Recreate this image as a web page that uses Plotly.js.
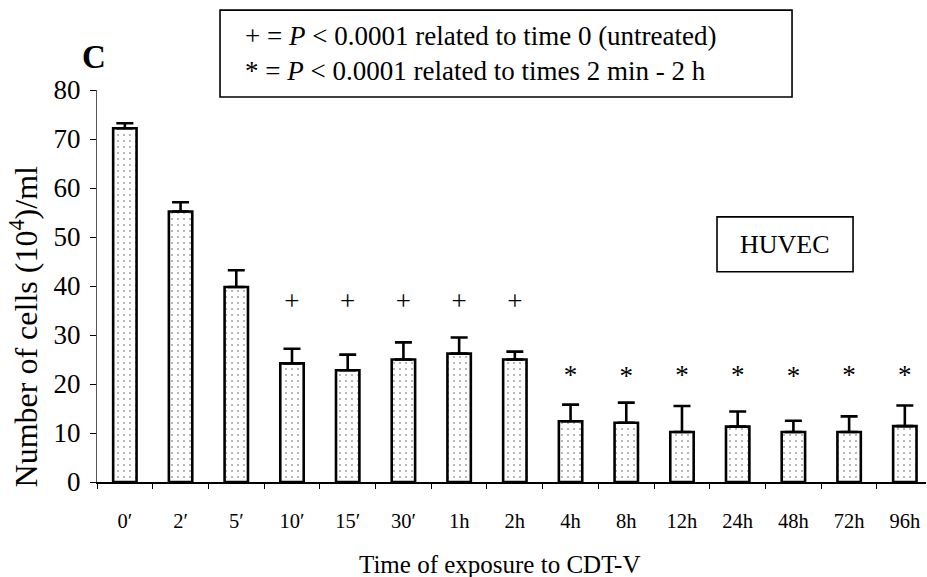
<!DOCTYPE html>
<html>
<head>
<meta charset="utf-8">
<script src="https://cdn.plot.ly/plotly-3.0.1.min.js"></script>
<style>html,body{margin:0;padding:0;background:#fff;}#chart{width:927px;height:577px;}</style>
</head>
<body>
<div id="chart"></div>
<script>
const categories = ["0\u2032","2\u2032","5\u2032","10\u2032","15\u2032","30\u2032","1h","2h","4h","8h","12h","24h","48h","72h","96h"];
const means = [72.2, 55.2, 39.8, 24.2, 22.8, 25.0, 26.2, 25.0, 12.4, 12.1, 10.2, 11.3, 10.2, 10.2, 11.4];
const errors = [1.0, 1.9, 3.4, 3.0, 3.2, 3.5, 3.3, 1.6, 3.4, 4.1, 5.3, 3.1, 2.3, 3.2, 4.2];
const sigLabels = ["","","","+","+","+","+","+","*","*","*","*","*","*","*"];
const sigY = [null,null,null,36.4,36.4,36.4,36.4,36.4,21.4,21.2,21.4,21.4,21.1,21.4,21.4];
const yTicks = [0,10,20,30,40,50,60,70,80];

const serif = "Liberation Serif";

const bars = {
  type: "bar",
  x: categories,
  y: means,
  width: 0.42,
  marker: {
    color: "#ffffff",
    line: {color: "#000", width: 2.6},
    pattern: {shape: ".", fgcolor: "#a8a8a8", bgcolor: "#ffffff", size: 6, solidity: 0.1}
  },
  error_y: {type: "data", symmetric: false, array: errors, arrayminus: errors.map(() => 0),
            color: "#000", thickness: 2.6, width: 8.5},
  hoverinfo: "none"
};

const sig = {
  type: "scatter",
  mode: "text",
  x: categories,
  y: sigY,
  text: sigLabels,
  textfont: {family: serif, size: 27, color: "#000"},
  cliponaxis: false,
  hoverinfo: "none"
};

const layout = {
  width: 927, height: 577,
  margin: {l: 97, r: 1, t: 90, b: 94.5},
  paper_bgcolor: "#fff", plot_bgcolor: "#fff",
  showlegend: false,
  font: {family: serif, color: "#000"},
  xaxis: {
    type: "category",
    range: [-0.5, 14.38],
    tickson: "boundaries",
    ticks: "outside", ticklen: 5, tickwidth: 1, tickcolor: "#000",
    showline: true, linecolor: "#000", linewidth: 1.5,
    showgrid: false, zeroline: false,
    tickfont: {family: serif, size: 20.5, color: "#000"},
    ticklabelstandoff: 20
  },
  yaxis: {
    range: [0, 80],
    tickvals: yTicks,
    ticks: "outside", ticklen: 6, tickwidth: 1, tickcolor: "#000",
    showline: true, linecolor: "#555", linewidth: 1.2,
    showgrid: false, zeroline: false,
    tickfont: {family: serif, size: 27, color: "#000"},
    ticklabelstandoff: 4
  },
  shapes: [
    {type: "rect", xref: "paper", yref: "paper", x0: 0.1484, x1: 0.8384, y0: 0.982, y1: 1.2038,
     line: {color: "#000", width: 1.6}, fillcolor: "rgba(0,0,0,0)"},
    {type: "rect", xref: "paper", yref: "paper", x0: 0.7479, x1: 0.912, y0: 0.5363, y1: 0.6764,
     line: {color: "#000", width: 1.6}, fillcolor: "#fff"}
  ],
  annotations: [
    {xref: "paper", yref: "paper", x: -0.0036, y: 1.083, xanchor: "center", yanchor: "middle",
     text: "<b>C</b>", showarrow: false, font: {family: serif, size: 33, color: "#000"}},
    {xref: "paper", yref: "paper", x: -0.0885, y: 0.396, xanchor: "center", yanchor: "middle",
     text: "Number of cells (10<sup>4</sup>)/ml", textangle: -90, showarrow: false,
     font: {family: serif, size: 32, color: "#000"}},
    {xref: "paper", yref: "paper", x: 0.486, y: -0.21, xanchor: "center", yanchor: "middle",
     text: "Time of exposure to CDT-V", showarrow: false,
     font: {family: serif, size: 25, color: "#000"}},
    {xref: "paper", yref: "paper", x: 0.8299, y: 0.605, xanchor: "center", yanchor: "middle",
     text: "HUVEC", showarrow: false, font: {family: serif, size: 26, color: "#000"}},
    {xref: "paper", yref: "paper", x: 0.1761, y: 1.093, xanchor: "left", yanchor: "middle",
     text: "+ = <i>P</i> < 0.0001 related to time 0 (untreated)<br>* = <i>P</i> < 0.0001 related to times 2 min - 2 h",
     align: "left", showarrow: false, font: {family: serif, size: 27, color: "#000"}}
  ]
};

Plotly.newPlot("chart", [bars, sig], layout, {displayModeBar: false, staticPlot: true});
</script>
</body>
</html>
